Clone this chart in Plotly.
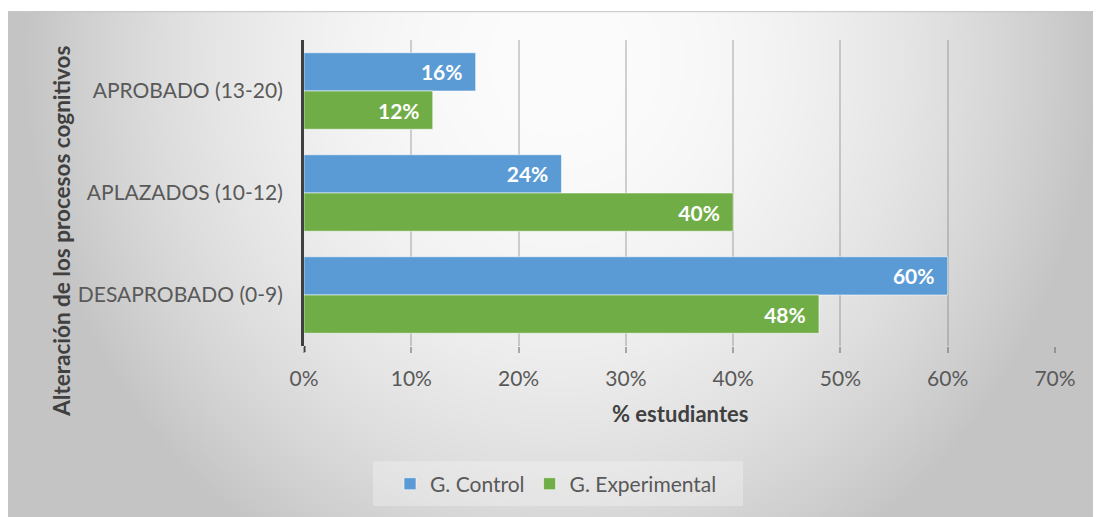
import base64
import struct
import zlib

import numpy as np
import plotly.graph_objects as go

# ---------------- data ----------------
categories = ["APROBADO (13-20)", "APLAZADOS (10-12)", "DESAPROBADO (0-9)"]
control_values = [16, 24, 60]
experimental_values = [12, 40, 48]
series_names = ["G. Control", "G. Experimental"]
x_tick_values = [0, 10, 20, 30, 40, 50, 60, 70]
x_tick_labels = ["0%", "10%", "20%", "30%", "40%", "50%", "60%", "70%"]
x_title = "% estudiantes"
y_title = "Alteración de los procesos cognitivos"

# ---------------- geometry (page coords -> figure coords; page body margin = 8px) ----------------
OFF = 8
W, H = 1101 - OFF, 517 - OFF
ML = 304 - OFF
MR = W - (1055 - OFF)
MT = 40 - OFF
MB = H - (348 - OFF)
PW, PH = W - ML - MR, H - MT - MB


def px_to_paper_x(px):
    return (px - OFF - ML) / PW


def px_to_paper_y(py):
    return (H - MB - (py - OFF)) / PH


# ---------------- background gradient (radial, light at top centre) ----------------
def gray_png(arr):
    h, w = arr.shape
    raw = b"".join(b"\x00" + arr[i].tobytes() for i in range(h))

    def chunk(tag, data):
        c = struct.pack(">I", len(data)) + tag + data
        return c + struct.pack(">I", zlib.crc32(tag + data) & 0xFFFFFFFF)

    png = b"\x89PNG\r\n\x1a\n"
    png += chunk(b"IHDR", struct.pack(">IIBBBBB", w, h, 8, 0, 0, 0, 0))
    png += chunk(b"IDAT", zlib.compress(raw, 9))
    png += chunk(b"IEND", b"")
    return "data:image/png;base64," + base64.b64encode(png).decode()


BX0, BY0 = 8, 11          # page coords of chart-area top-left
BX1, BY1 = 1112, 530      # extend past the visible window
BW, BH = BX1 - BX0, BY1 - BY0
scale = 2
gw, gh = BW // scale, BH // scale
gx = BX0 + (np.arange(gw) + 0.5) * scale
gy = BY0 + (np.arange(gh) + 0.5) * scale
XX, YY = np.meshgrid(gx, gy)
u = (XX - 560) / 520
v = (YY - 60) / 560
r2 = u * u + v * v
img = np.clip(252 - 52 * r2, 196, 252).astype(np.uint8)
bg_src = gray_png(img)

FONT = "Lato"
TXT = "#595959"
TITLE = "#404040"

fig = go.Figure()

bar_colors = ["#5B9BD5", "#70AD47"]
for name, vals, col in zip(series_names, [control_values, experimental_values], bar_colors):
    fig.add_trace(
        go.Bar(
            name=name,
            y=categories,
            x=vals,
            orientation="h",
            marker=dict(color=col, line=dict(color="rgba(255,255,255,0.55)", width=1)),
            text=[f"{v}%" + "\u00a0\u00a0" for v in vals],
            textposition="inside",
            insidetextanchor="end",
            textangle=0,
            textfont=dict(family=FONT, size=21, color="white", weight="bold"),
            hoverinfo="skip",
        )
    )

fig.update_layout(
    width=W,
    height=H,
    margin=dict(l=ML, r=MR, t=MT, b=MB, pad=0),
    paper_bgcolor="white",
    plot_bgcolor="rgba(0,0,0,0)",
    barmode="group",
    bargap=0.25,
    bargroupgap=0,
    font=dict(family=FONT, size=20, color=TXT),
    showlegend=True,
    legend=dict(
        orientation="h",
        xanchor="center",
        x=px_to_paper_x(556),
        yanchor="middle",
        y=px_to_paper_y(487),
        bgcolor="rgba(0,0,0,0)",
        font=dict(family=FONT, size=21, color=TXT),
        traceorder="normal",
        itemwidth=30,
    ),
    uniformtext=dict(mode=False),
)

fig.update_xaxes(
    range=[0, 70],
    tickvals=x_tick_values,
    ticktext=x_tick_labels,
    showgrid=True,
    gridcolor="rgba(110,110,110,0.30)",
    gridwidth=2,
    zeroline=False,
    showline=False,
    ticks="outside",
    ticklen=6,
    tickwidth=2,
    tickcolor="rgba(110,110,110,0.55)",
    ticklabelstandoff=8,
    tickfont=dict(family=FONT, size=21, color=TXT),
    fixedrange=True,
)

fig.update_yaxes(
    categoryorder="array",
    categoryarray=categories,
    autorange="reversed",
    showgrid=False,
    zeroline=False,
    showline=True,
    linecolor="#404040",
    linewidth=3,
    ticks="",
    ticklabelstandoff=14,
    tickfont=dict(family=FONT, size=21, color=TXT),
    fixedrange=True,
)

# background image covering the chart area
fig.add_layout_image(
    dict(
        source=bg_src,
        xref="paper",
        yref="paper",
        x=px_to_paper_x(BX0),
        y=px_to_paper_y(BY0),
        sizex=BW / PW,
        sizey=BH / PH,
        xanchor="left",
        yanchor="top",
        sizing="stretch",
        layer="below",
        opacity=1,
    )
)

# chart-area border (top and left edges) and legend box
for (xa, ya, xb, yb) in [(BX0 + 0.5, BY0 + 0.5, BX1, BY0 + 0.5), (BX0 + 0.5, BY0 + 0.5, BX0 + 0.5, BY1)]:
    fig.add_shape(
        type="line",
        xref="paper",
        yref="paper",
        x0=px_to_paper_x(xa),
        x1=px_to_paper_x(xb),
        y0=px_to_paper_y(ya),
        y1=px_to_paper_y(yb),
        line=dict(color="#C4C4C4", width=1),
        layer="below",
    )
fig.add_shape(
    type="rect",
    xref="paper",
    yref="paper",
    x0=px_to_paper_x(373),
    x1=px_to_paper_x(743),
    y0=px_to_paper_y(509),
    y1=px_to_paper_y(464),
    line=dict(width=0),
    fillcolor="rgba(255,255,255,0.28)",
    layer="below",
)
# extension of the vertical axis line below the plot
fig.add_shape(
    type="line",
    xref="x",
    yref="paper",
    x0=0,
    x1=0,
    y0=0,
    y1=px_to_paper_y(348 + 6),
    line=dict(color="#404040", width=3),
)

# axis titles
fig.add_annotation(
    text=x_title,
    xref="paper",
    yref="paper",
    x=px_to_paper_x(680),
    y=px_to_paper_y(416),
    xanchor="center",
    yanchor="middle",
    showarrow=False,
    font=dict(family=FONT, size=22, color=TITLE, weight="bold"),
)
fig.add_annotation(
    text=y_title,
    xref="paper",
    yref="paper",
    x=px_to_paper_x(62),
    y=px_to_paper_y(233),
    xanchor="center",
    yanchor="middle",
    textangle=-90,
    showarrow=False,
    font=dict(family=FONT, size=22.5, color=TITLE, weight="bold"),
)

# hide page scrollbars (the figure fills the window right up to its edges)
hide_scroll = (
    "document.documentElement.style.overflow='hidden';"
    "document.body.style.overflow='hidden';"
)
fig.write_html("out.html", post_script=hide_scroll)
